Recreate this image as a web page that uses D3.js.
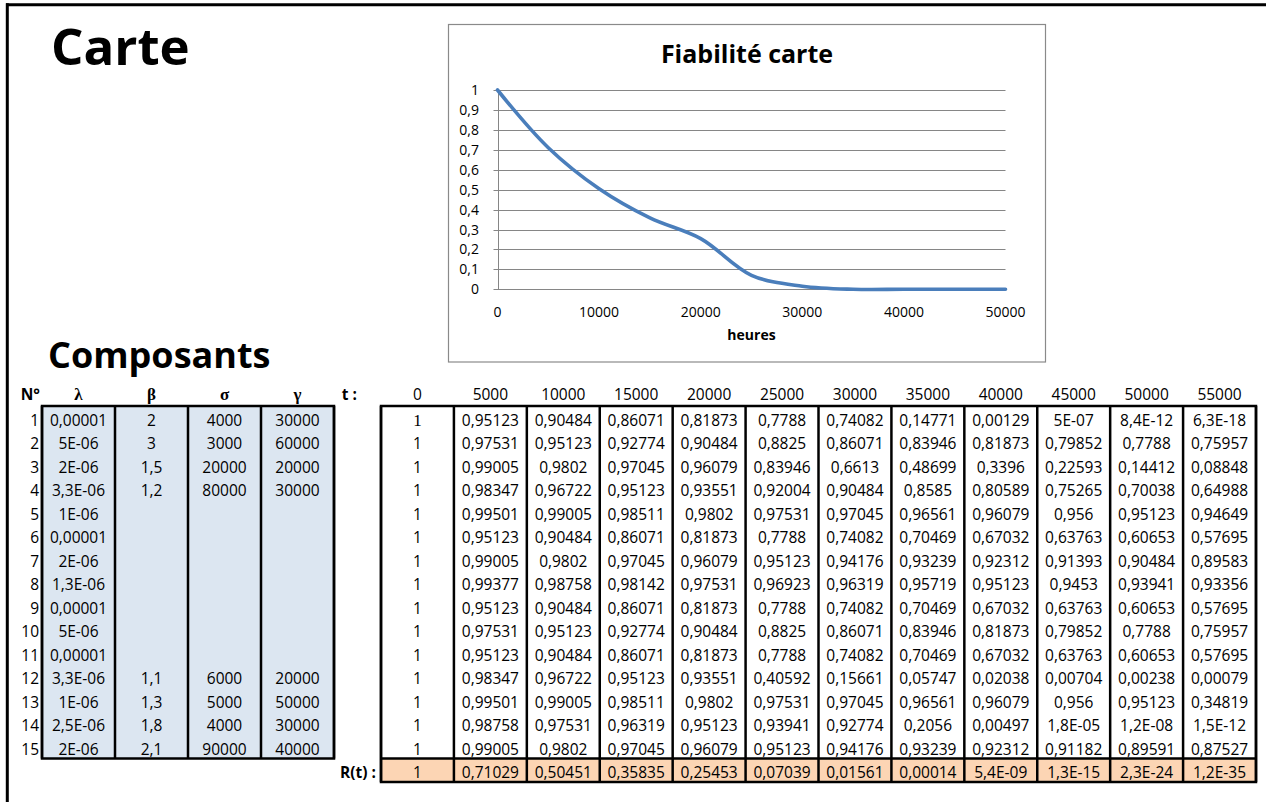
<!DOCTYPE html>
<html>
<head>
<meta charset="utf-8">
<script src="https://cdn.jsdelivr.net/npm/d3@7"></script>
<style>
  body { margin: 0; background: #fff; }
  svg { display: block; }
  text { font-family: "Open Sans", sans-serif; fill: #000; }
</style>
</head>
<body>
<svg id="sheet" width="1266" height="802"></svg>
<script>
// ---- data ----
const times = [0, 5000, 10000, 15000, 20000, 25000, 30000, 35000, 40000, 45000, 50000, 55000];
const componentIds = [1, 2, 3, 4, 5, 6, 7, 8, 9, 10, 11, 12, 13, 14, 15];
const lambdaValues = [0.00001, 5e-6, 2e-6, 3.3e-6, 1e-6, 0.00001, 2e-6, 1.3e-6, 0.00001, 5e-6, 0.00001, 3.3e-6, 1e-6, 2.5e-6, 2e-6];
const betaValues  = [2, 3, 1.5, 1.2, null, null, null, null, null, null, null, 1.1, 1.3, 1.8, 2.1];
const sigmaValues = [4000, 3000, 20000, 80000, null, null, null, null, null, null, null, 6000, 5000, 4000, 90000];
const gammaValues = [30000, 60000, 20000, 30000, null, null, null, null, null, null, null, 20000, 50000, 30000, 40000];

const reliabilityByComponent = [
  [1, 0.95123, 0.90484, 0.86071, 0.81873, 0.7788, 0.74082, 0.14771, 0.00129, 5e-7, 8.4e-12, 6.3e-18],
  [1, 0.97531, 0.95123, 0.92774, 0.90484, 0.8825, 0.86071, 0.83946, 0.81873, 0.79852, 0.7788, 0.75957],
  [1, 0.99005, 0.9802, 0.97045, 0.96079, 0.83946, 0.6613, 0.48699, 0.3396, 0.22593, 0.14412, 0.08848],
  [1, 0.98347, 0.96722, 0.95123, 0.93551, 0.92004, 0.90484, 0.8585, 0.80589, 0.75265, 0.70038, 0.64988],
  [1, 0.99501, 0.99005, 0.98511, 0.9802, 0.97531, 0.97045, 0.96561, 0.96079, 0.956, 0.95123, 0.94649],
  [1, 0.95123, 0.90484, 0.86071, 0.81873, 0.7788, 0.74082, 0.70469, 0.67032, 0.63763, 0.60653, 0.57695],
  [1, 0.99005, 0.9802, 0.97045, 0.96079, 0.95123, 0.94176, 0.93239, 0.92312, 0.91393, 0.90484, 0.89583],
  [1, 0.99377, 0.98758, 0.98142, 0.97531, 0.96923, 0.96319, 0.95719, 0.95123, 0.9453, 0.93941, 0.93356],
  [1, 0.95123, 0.90484, 0.86071, 0.81873, 0.7788, 0.74082, 0.70469, 0.67032, 0.63763, 0.60653, 0.57695],
  [1, 0.97531, 0.95123, 0.92774, 0.90484, 0.8825, 0.86071, 0.83946, 0.81873, 0.79852, 0.7788, 0.75957],
  [1, 0.95123, 0.90484, 0.86071, 0.81873, 0.7788, 0.74082, 0.70469, 0.67032, 0.63763, 0.60653, 0.57695],
  [1, 0.98347, 0.96722, 0.95123, 0.93551, 0.40592, 0.15661, 0.05747, 0.02038, 0.00704, 0.00238, 0.00079],
  [1, 0.99501, 0.99005, 0.98511, 0.9802, 0.97531, 0.97045, 0.96561, 0.96079, 0.956, 0.95123, 0.34819],
  [1, 0.98758, 0.97531, 0.96319, 0.95123, 0.93941, 0.92774, 0.2056, 0.00497, 1.8e-5, 1.2e-8, 1.5e-12],
  [1, 0.99005, 0.9802, 0.97045, 0.96079, 0.95123, 0.94176, 0.93239, 0.92312, 0.91182, 0.89591, 0.87527]
];
const systemReliability = [1, 0.71029, 0.50451, 0.35835, 0.25453, 0.07039, 0.01561, 0.00014, 5.4e-9, 1.3e-15, 2.3e-24, 1.2e-35];

const chartXTicks = [0, 10000, 20000, 30000, 40000, 50000];
const chartYTicks = [0, 0.1, 0.2, 0.3, 0.4, 0.5, 0.6, 0.7, 0.8, 0.9, 1];
const chartMaxTime = 50000;

// ---- number display (spreadsheet "General" style, comma decimal) ----
function general(v) {
  if (v === null || v === undefined) return "";
  if (v === 0) return "0";
  const scaled = v * 1e5;
  const rounded = Math.round(scaled);
  const needsSci = v < 1e-4 && (rounded === 0 || Math.abs(scaled - rounded) > 1e-6);
  if (needsSci) {
    const e = Math.floor(Math.log10(v));
    let m = Math.round((v / Math.pow(10, e)) * 10) / 10;
    let ee = e;
    if (m >= 10) { m = m / 10; ee += 1; }
    const ms = Number.isInteger(m) ? String(m) : m.toFixed(1).replace(".", ",");
    const exp = Math.abs(ee);
    return ms + "E" + (ee < 0 ? "-" : "+") + (exp < 10 ? "0" + exp : String(exp));
  }
  let s = v.toFixed(5);
  if (s.indexOf(".") >= 0) s = s.replace(/0+$/, "").replace(/\.$/, "");
  return s.replace(".", ",");
}
const frLocale = d3.formatLocale({ decimal: ",", thousands: "", grouping: [3], currency: ["", " €"] });
const fmtY = v => (v === 0 || v === 1) ? String(v) : frLocale.format(".1f")(v);

const svg = d3.select("#sheet");
svg.append("rect").attr("width", 1266).attr("height", 802).attr("fill", "#fff");

// sheet frame
svg.append("line").attr("x1", 6).attr("x2", 1266).attr("y1", 4.7).attr("y2", 4.7)
  .attr("stroke", "#000").attr("stroke-width", 3);
svg.append("line").attr("x1", 7.3).attr("x2", 7.3).attr("y1", 3.2).attr("y2", 802)
  .attr("stroke", "#000").attr("stroke-width", 3);

// headings
svg.append("text").attr("x", 51).attr("y", 65).attr("font-size", 51).attr("font-weight", 700).text("Carte");
svg.append("text").attr("x", 48).attr("y", 368).attr("font-size", 36).attr("font-weight", 700).text("Composants");

// ---- reliability chart ----
const chart = svg.append("g");
chart.append("rect").attr("x", 448.5).attr("y", 24.5).attr("width", 597).attr("height", 337.5)
  .attr("fill", "#fff").attr("stroke", "#8a8a8a").attr("stroke-width", 1.2);

const x = d3.scaleLinear().domain([0, chartMaxTime]).range([497.5, 1005.5]);
const y = d3.scaleLinear().domain([0, 1]).range([289.3, 90]);

chart.append("text").attr("x", 747).attr("y", 63).attr("text-anchor", "middle")
  .attr("font-size", 25).attr("font-weight", 700).text("Fiabilité carte");

chart.append("g").selectAll("line").data(chartYTicks).join("line")
  .attr("x1", x(0) - 4).attr("x2", x(chartMaxTime))
  .attr("y1", d => Math.round(y(d)) + 0.5).attr("y2", d => Math.round(y(d)) + 0.5)
  .attr("stroke", "#868686").attr("stroke-width", 1);
chart.append("line").attr("x1", Math.round(x(0)) + 0.5).attr("x2", Math.round(x(0)) + 0.5)
  .attr("y1", y(1)).attr("y2", y(0) + 0.5).attr("stroke", "#868686").attr("stroke-width", 1);

chart.append("g").selectAll("text").data(chartYTicks).join("text")
  .attr("x", 479).attr("y", d => y(d)).attr("dy", "0.36em").attr("text-anchor", "end")
  .attr("font-size", 14).text(fmtY);
chart.append("g").selectAll("text").data(chartXTicks).join("text")
  .attr("x", d => x(d)).attr("y", 311.5).attr("dy", "0.36em").attr("text-anchor", "middle")
  .attr("font-size", 14).text(d => String(d));
chart.append("text").attr("x", (x(0) + x(chartMaxTime)) / 2).attr("y", 340)
  .attr("text-anchor", "middle").attr("font-size", 14).attr("font-weight", 700).text("heures");

const curveData = times.map((t, i) => ({ t, r: systemReliability[i] })).filter(d => d.t <= chartMaxTime);
chart.append("path").datum(curveData)
  .attr("fill", "none").attr("stroke", "#4A7EBB").attr("stroke-width", 3.6)
  .attr("stroke-linecap", "round").attr("stroke-linejoin", "round")
  .attr("d", d3.line().x(d => x(d.t)).y(d => y(d.r)).curve(d3.curveCatmullRom.alpha(0.5)));

// ---- component tables ----
const rowBand = d3.scaleBand().domain(componentIds).range([406, 758.5]);
const rtTop = rowBand.range()[1];
const rtBottom = rtTop + rowBand.bandwidth();
const headerBase = 400;
const baseOf = top => top + rowBand.bandwidth() - 4;

const paramKeys = ["λ", "β", "σ", "γ"];
const paramCols = d3.scaleBand().domain(paramKeys).range([42, 334]);
const paramData = { "λ": lambdaValues, "β": betaValues, "σ": sigmaValues, "γ": gammaValues };

const tCols = d3.scaleBand().domain(times).range([381, 1256]);

const tables = svg.append("g");
const border = { stroke: "#000", width: 2.5 };

// parameter block
tables.append("rect").attr("x", paramCols.range()[0]).attr("y", rowBand.range()[0])
  .attr("width", paramCols.range()[1] - paramCols.range()[0]).attr("height", rtTop - rowBand.range()[0])
  .attr("fill", "#DCE6F1");
// reliability grid: system row fill
tables.append("rect").attr("x", tCols.range()[0]).attr("y", rtTop)
  .attr("width", tCols.range()[1] - tCols.range()[0]).attr("height", rtBottom - rtTop)
  .attr("fill", "#FCD5B4");

// header row
tables.append("text").attr("x", 40).attr("y", headerBase).attr("text-anchor", "end")
  .attr("font-size", 15.5).attr("font-weight", 700).text("N°");
tables.append("g").selectAll("text").data(paramKeys).join("text")
  .attr("x", d => paramCols(d) + paramCols.bandwidth() / 2).attr("y", headerBase)
  .attr("text-anchor", "middle").attr("font-size", 17).attr("font-weight", 700)
  .style("font-family", "'Liberation Serif', serif").text(d => d);
tables.append("text").attr("x", 357).attr("y", headerBase).attr("text-anchor", "end")
  .attr("font-size", 15.5).attr("font-weight", 700).text("t :");
tables.append("g").selectAll("text").data(times).join("text")
  .attr("x", d => tCols(d) + tCols.bandwidth() / 2).attr("y", headerBase)
  .attr("text-anchor", "middle").attr("font-size", 15.5).text(d => String(d));

// row numbers
tables.append("g").selectAll("text").data(componentIds).join("text")
  .attr("x", 39).attr("y", d => baseOf(rowBand(d))).attr("text-anchor", "end")
  .attr("font-size", 15.5).text(d => d);

// parameter values
paramKeys.forEach(k => {
  tables.append("g").selectAll("text").data(paramData[k].map((v, i) => ({ v, id: componentIds[i] })))
    .join("text")
    .attr("x", paramCols(k) + paramCols.bandwidth() / 2).attr("y", d => baseOf(rowBand(d.id)))
    .attr("text-anchor", "middle").attr("font-size", 15.5).text(d => general(d.v));
});

// component reliability values
reliabilityByComponent.forEach((row, ri) => {
  tables.append("g").selectAll("text").data(row.map((v, ci) => ({ v, t: times[ci] })))
    .join("text")
    .attr("x", d => tCols(d.t) + tCols.bandwidth() / 2).attr("y", baseOf(rowBand(componentIds[ri])))
    .attr("text-anchor", "middle")
    .style("font-family", d => (ri === 0 && d.t === 0) ? "'Liberation Serif', serif" : null)
    .attr("font-size", d => (ri === 0 && d.t === 0) ? 17 : 15.5)
    .text(d => general(d.v));
});

// system reliability row
tables.append("text").attr("x", 376).attr("y", baseOf(rtTop)).attr("text-anchor", "end")
  .attr("font-size", 15.5).attr("font-weight", 700).text("R(t) :");
tables.append("g").selectAll("text").data(systemReliability.map((v, i) => ({ v, t: times[i] })))
  .join("text")
  .attr("x", d => tCols(d.t) + tCols.bandwidth() / 2).attr("y", baseOf(rtTop))
  .attr("text-anchor", "middle").attr("font-size", 15.5).text(d => general(d.v));

// borders: parameter block
const pEdges = paramKeys.map(k => paramCols(k)).concat([paramCols.range()[1]]);
tables.append("g").selectAll("line").data(pEdges).join("line")
  .attr("x1", d => d).attr("x2", d => d).attr("y1", rowBand.range()[0]).attr("y2", rtTop)
  .attr("stroke", border.stroke).attr("stroke-width", border.width);
tables.append("rect").attr("x", pEdges[0]).attr("y", rowBand.range()[0])
  .attr("width", pEdges[pEdges.length - 1] - pEdges[0]).attr("height", rtTop - rowBand.range()[0])
  .attr("fill", "none").attr("stroke", border.stroke).attr("stroke-width", border.width);

// borders: reliability grid
const tEdges = times.map(t => tCols(t)).concat([tCols.range()[1]]);
tables.append("g").selectAll("line").data(tEdges).join("line")
  .attr("x1", d => d).attr("x2", d => d).attr("y1", rowBand.range()[0]).attr("y2", rtBottom)
  .attr("stroke", border.stroke).attr("stroke-width", border.width);
tables.append("line").attr("x1", tEdges[0]).attr("x2", tEdges[tEdges.length - 1])
  .attr("y1", rtTop).attr("y2", rtTop).attr("stroke", border.stroke).attr("stroke-width", border.width);
tables.append("rect").attr("x", tEdges[0]).attr("y", rowBand.range()[0])
  .attr("width", tEdges[tEdges.length - 1] - tEdges[0]).attr("height", rtBottom - rowBand.range()[0])
  .attr("fill", "none").attr("stroke", border.stroke).attr("stroke-width", border.width);
</script>
</body>
</html>
